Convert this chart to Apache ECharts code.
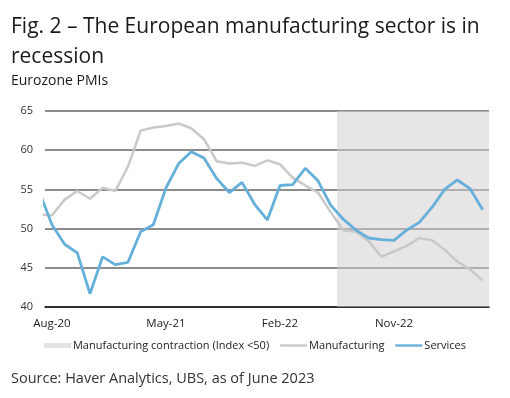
<!DOCTYPE html>
<html><head><meta charset="utf-8">
<script src="https://cdn.jsdelivr.net/npm/echarts@6/dist/echarts.min.js"></script>
<style>html,body{margin:0;padding:0;background:#fff}#c{width:510px;height:398px}</style>
</head><body><div id="c"></div><script>
const months = ['Jul-20','Aug-20','Sep-20','Oct-20','Nov-20','Dec-20',
  'Jan-21','Feb-21','Mar-21','Apr-21','May-21','Jun-21','Jul-21','Aug-21','Sep-21','Oct-21','Nov-21','Dec-21',
  'Jan-22','Feb-22','Mar-22','Apr-22','May-22','Jun-22','Jul-22','Aug-22','Sep-22','Oct-22','Nov-22','Dec-22',
  'Jan-23','Feb-23','Mar-23','Apr-23','May-23','Jun-23'];
const manufacturing = [51.8,51.7,53.7,54.8,53.8,55.2,
  54.8,57.9,62.5,62.9,63.1,63.4,62.8,61.4,58.6,58.3,58.4,58.0,
  58.7,58.2,56.5,55.5,54.6,52.1,49.8,49.6,48.4,46.4,47.1,47.8,
  48.8,48.5,47.3,45.8,44.8,43.4];
const services = [54.7,50.5,48.0,46.9,41.7,46.4,
  45.4,45.7,49.6,50.5,55.2,58.3,59.8,59.0,56.4,54.6,55.9,53.1,
  51.1,55.5,55.6,57.7,56.1,53.0,51.2,49.8,48.8,48.6,48.5,49.8,
  50.8,52.7,55.0,56.2,55.1,52.4];
const tickLabels = ['Aug-20','May-21','Feb-22','Nov-22'];
const yTicks = [40,45,50,55,60,65];
const threshold = 50;

const yMin = yTicks[0], yMax = yTicks[yTicks.length-1];
const tickIdx = tickLabels.map(l => months.indexOf(l));
const mfgPts = manufacturing.map((v,i)=>[i,v]);
const svcPts = services.map((v,i)=>[i,v]);
const contraction = manufacturing.map((v,i)=> v < threshold ? [i, yMax] : null).filter(d=>d);
const cStart = contraction[0][0] - 0.5, cEnd = contraction[contraction.length-1][0] + 0.5;
const FONT = 'Open Sans';
const SHADE = '#e4e2e3';
const lineIcon = 'path://M0,0L30,0L30,2.6L0,2.6Z';

const chart = echarts.init(document.getElementById('c'), null, {renderer:'canvas'});
chart.setOption({
  animation:false,
  backgroundColor:'#fff',
  textStyle:{fontFamily:FONT},
  title:[
    {text:'Fig. 2 – The European manufacturing sector is in\nrecession', left:6, top:7,
     textStyle:{fontFamily:FONT, fontSize:21, fontWeight:'normal', color:'#1a1a1a', lineHeight:30}},
    {text:'Eurozone PMIs', left:6, top:68,
     textStyle:{fontFamily:FONT, fontSize:14, fontWeight:'normal', color:'#1a1a1a', lineHeight:16}},
    {text:'Source: Haver Analytics, UBS, as of June 2023', left:6, top:366,
     textStyle:{fontFamily:FONT, fontSize:14.5, fontWeight:'normal', color:'#333'}}
  ],
  legend:{
    top:335, left:'center', itemWidth:27, itemHeight:5, itemGap:11,
    textStyle:{fontFamily:FONT, fontSize:11, color:'#222', padding:[0,0,0,-3]},
    data:[
      {name:'Manufacturing contraction (Index <50)', icon:'rect', itemStyle:{color:SHADE, opacity:1}},
      {name:'Manufacturing', icon:lineIcon, itemStyle:{color:'#c9c9c9'}},
      {name:'Services', icon:lineIcon, itemStyle:{color:'#65afdb'}}
    ]
  },
  grid:{left:45, right:21, top:111, bottom:91, containLabel:false},
  xAxis:{
    type:'value', min:months.indexOf('Aug-20')-0.55, max:months.length-0.5,
    splitLine:{show:false},
    axisLine:{show:true, lineStyle:{color:'#111', width:1.5}},
    axisTick:{show:false},
    axisLabel:{customValues:tickIdx, formatter:v=>months[Math.round(v)], color:'#222', fontSize:11.5, margin:11, fontFamily:FONT}
  },
  yAxis:{
    type:'value', min:yMin, max:yMax, interval:5,
    axisLine:{show:false}, axisTick:{show:false},
    axisLabel:{color:'#333', fontSize:11, margin:12, fontFamily:FONT},
    splitLine:{lineStyle:{color:'#666', width:1.5}}
  },
  series:[
    {name:'Manufacturing contraction (Index <50)', type:'bar', data:contraction, barWidth:'100%',
     itemStyle:{color:SHADE, opacity:0}, silent:true,
     markArea:{silent:true, itemStyle:{color:'rgba(210,206,208,0.52)'},
       data:[[{xAxis:cStart, yAxis:yMin},{xAxis:cEnd, yAxis:yMax}]]}},
    {name:'Manufacturing', type:'line', data:mfgPts, showSymbol:false, symbol:'none',
     lineStyle:{color:'#c9c9c9', width:2.5}, itemStyle:{color:'#c9c9c9'}},
    {name:'Services', type:'line', data:svcPts, showSymbol:false, symbol:'none',
     lineStyle:{color:'#65afdb', width:2.8}, itemStyle:{color:'#65afdb'}}
  ]
});
</script></body></html>
